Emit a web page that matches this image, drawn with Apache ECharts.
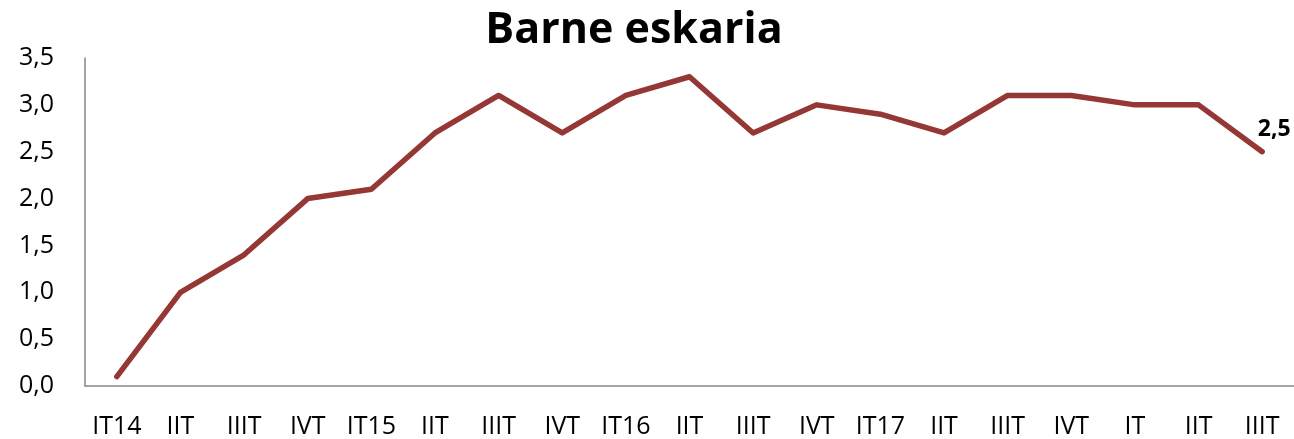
<!DOCTYPE html>
<html>
<head>
<meta charset="utf-8">
<script src="https://cdn.jsdelivr.net/npm/echarts@6/dist/echarts.min.js"></script>
<style>
  html, body { margin: 0; padding: 0; background: #fff; }
  #chart { width: 1294px; height: 439px; }
</style>
</head>
<body>
<div id="chart"></div>
<script>
var categories = ['IT14', 'IIT', 'IIIT', 'IVT', 'IT15', 'IIT', 'IIIT', 'IVT', 'IT16', 'IIT', 'IIIT', 'IVT', 'IT17', 'IIT', 'IIIT', 'IVT', 'IT', 'IIT', 'IIIT'];
var values = [0.1, 1.0, 1.4, 2.0, 2.1, 2.7, 3.1, 2.7, 3.1, 3.3, 2.7, 3.0, 2.9, 2.7, 3.1, 3.1, 3.0, 3.0, 2.5];

var fmt = function (v) { return v.toFixed(1).replace('.', ','); };

var chart = echarts.init(document.getElementById('chart'));
var lastIdx = values.length - 1;

chart.setOption({
    animation: false,
    title: {
        text: 'Barne eskaria',
        left: 629,
        textAlign: 'center',
        top: 4,
        textStyle: { fontFamily: 'Open Sans', fontWeight: 'bold', fontSize: 43, color: '#000' }
    },
    grid: { left: 85, right: 0, top: 58, bottom: 53 },
    xAxis: {
        type: 'category',
        data: categories,
        boundaryGap: true,
        axisLine: { lineStyle: { color: '#868686', width: 1.5 } },
        axisTick: { show: false },
        axisLabel: { interval: 0, margin: 28, fontFamily: 'Open Sans', fontSize: 25, color: '#000' }
    },
    yAxis: {
        type: 'value',
        min: 0,
        max: 3.5,
        interval: 0.5,
        splitLine: { show: false },
        axisLine: { show: true, lineStyle: { color: '#868686', width: 1.5 } },
        axisTick: { show: false },
        axisLabel: {
            margin: 31,
            fontFamily: 'Open Sans', fontSize: 25, color: '#000',
            formatter: fmt
        }
    },
    series: [{
        type: 'line',
        data: values.map(function (v, i) {
            return i === lastIdx ? {
                value: v,
                label: {
                    show: true, position: 'top', offset: [12, -6],
                    formatter: function (p) { return fmt(p.value); },
                    fontFamily: 'Open Sans', fontWeight: 'bold', fontSize: 23, color: '#000'
                }
            } : v;
        }),
        symbol: 'circle',
        symbolSize: 0.1,
        showSymbol: true,
        lineStyle: { color: '#953735', width: 5.5, cap: 'round', join: 'round' },
        itemStyle: { color: '#953735' }
    }]
});
</script>
</body>
</html>
